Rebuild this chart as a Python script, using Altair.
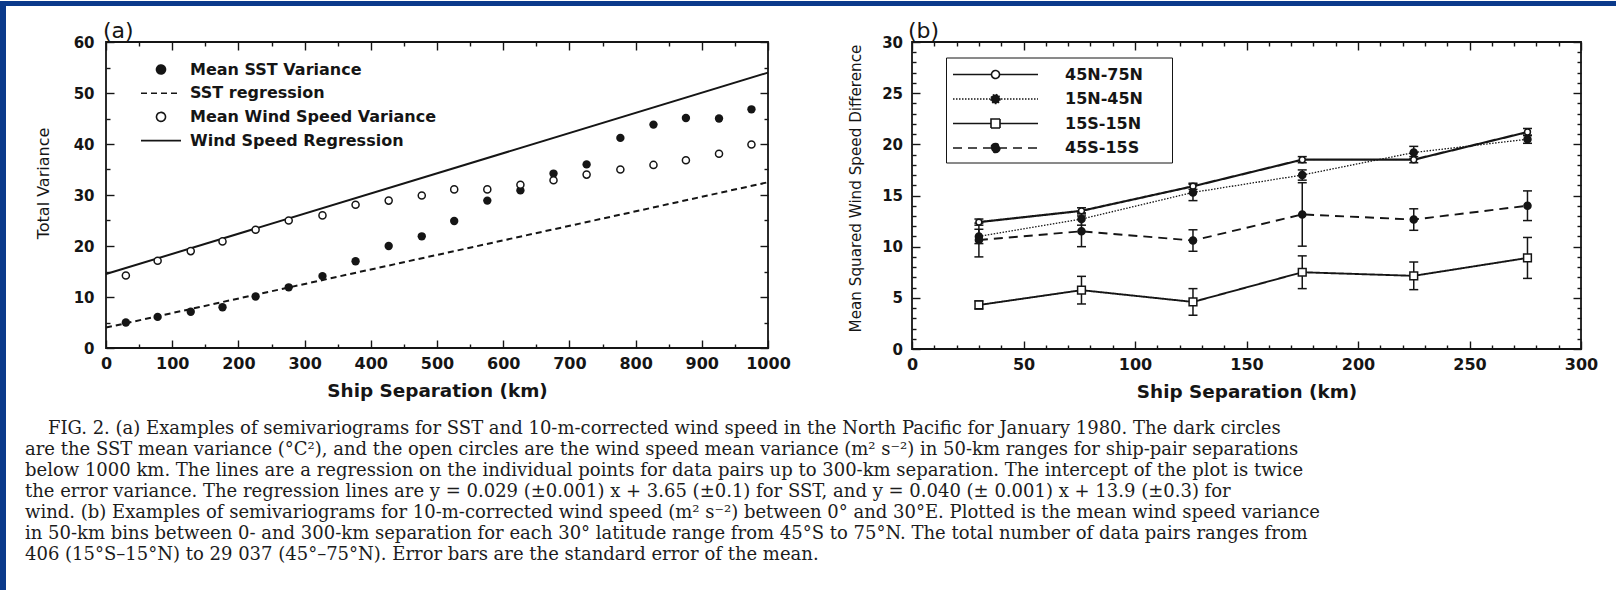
import altair as alt
import pandas as pd

INK = "#151515"
BLUE = "#0b3a8b"
SANS = "DejaVu Sans"
SERIF = "DejaVu Serif"
NB = "\u00a0"

# ---------------- panel (a) values ----------------
a_sep = [30, 78, 128, 176, 226, 276, 327, 377, 427, 477, 526, 576, 626, 676, 726, 777, 827, 876, 926, 975]
a_sst = [5.0, 6.1, 7.1, 8.0, 10.1, 11.9, 14.1, 17.0, 20.0, 21.9, 24.9, 28.9, 30.9, 34.2, 36.0, 41.2, 43.8, 45.1, 45.0, 46.8]
a_wind = [14.2, 17.1, 19.0, 20.9, 23.2, 25.0, 26.0, 28.1, 28.9, 29.9, 31.1, 31.1, 32.0, 32.9, 34.0, 35.0, 35.9, 36.8, 38.1, 39.9]
a_reg_sep = [0, 1000]
a_sst_reg = [4.0, 32.5]
a_wind_reg = [14.5, 54.0]
a_legend_items = ["Mean SST Variance", "SST regression", "Mean Wind Speed Variance", "Wind Speed Regression"]
a_x_major = [0, 100, 200, 300, 400, 500, 600, 700, 800, 900, 1000]
a_x_minor = [50, 150, 250, 350, 450, 550, 650, 750, 850, 950]
a_y_major = [0, 10, 20, 30, 40, 50, 60]
a_y_minor = [5, 15, 25, 35, 45, 55]

# ---------------- panel (b) values ----------------
b_sep = [30, 76, 126, 175, 225, 276]
b_series = ["45N-75N", "15N-45N", "15S-15N", "45S-15S"]
b_45n_75n = [12.4, 13.5, 15.9, 18.5, 18.5, 21.2]
b_45n_75n_se = [0.3, 0.3, 0.3, 0.3, 0.3, 0.35]
b_15n_45n = [11.0, 12.7, 15.3, 17.0, 19.2, 20.5]
b_15n_45n_se = [0.7, 0.6, 0.8, 0.5, 0.6, 0.4]
b_15s_15n = [4.3, 5.75, 4.6, 7.5, 7.15, 8.9]
b_15s_15n_se = [0.4, 1.35, 1.3, 1.6, 1.35, 2.0]
b_45s_15s = [10.65, 11.5, 10.6, 13.15, 12.65, 14.0]
b_45s_15s_se = [1.65, 1.5, 1.05, 3.1, 1.05, 1.45]
b_x_major = [0, 50, 100, 150, 200, 250, 300]
b_x_minor = [10, 20, 30, 40, 60, 70, 80, 90, 110, 120, 130, 140, 160, 170, 180, 190,
             210, 220, 230, 240, 260, 270, 280, 290]
b_y_major = [0, 5, 10, 15, 20, 25, 30]
b_y_minor = [1, 2, 3, 4, 6, 7, 8, 9, 11, 12, 13, 14, 16, 17, 18, 19, 21, 22, 23, 24, 26, 27, 28, 29]

caption_lines = [
    "\u200b" + NB * 4 + "FIG. 2. (a) Examples of semivariograms for SST and 10-m-corrected wind speed in the North Pacific for January 1980. The dark circles",
    "are the SST mean variance (°C²), and the open circles are the wind speed mean variance (m² s⁻²) in 50-km ranges for ship-pair separations",
    "below 1000 km. The lines are a regression on the individual points for data pairs up to 300-km separation. The intercept of the plot is twice",
    "the error variance. The regression lines are y = 0.029 (±0.001) x + 3.65 (±0.1) for SST, and y = 0.040 (± 0.001) x + 13.9 (±0.3) for",
    "wind. (b) Examples of semivariograms for 10-m-corrected wind speed (m² s⁻²) between 0° and 30°E. Plotted is the mean wind speed variance",
    "in 50-km bins between 0- and 300-km separation for each 30° latitude range from 45°S to 75°N. The total number of data pairs ranges from",
    "406 (15°S–15°N) to 29 037 (45°–75°N). Error bars are the standard error of the mean.",
]

# ---------------- tables ----------------
df_a = pd.DataFrame({"sep": a_sep, "sst": a_sst, "wind": a_wind})
df_a_reg = pd.DataFrame({"sep": a_reg_sep, "sst": a_sst_reg, "wind": a_wind_reg})
df_a_leg = pd.DataFrame({"item_a": a_legend_items})

b_vals = {"45N-75N": (b_45n_75n, b_45n_75n_se), "15N-45N": (b_15n_45n, b_15n_45n_se),
          "15S-15N": (b_15s_15n, b_15s_15n_se), "45S-15S": (b_45s_15s, b_45s_15s_se)}
rows = []
for s in b_series:
    v, e = b_vals[s]
    for xx, yy, ee in zip(b_sep, v, e):
        rows.append({"series": s, "sep": xx, "val": yy, "lo": yy - ee, "hi": yy + ee})
df_b = pd.DataFrame(rows)
df_b_leg = pd.DataFrame({"item_b": b_series})


def axis_layers(df, xf, yf, xsc, ysc, xmaj, xmin, ymaj, ymin, xtitle, ytitle,
                ylabpad, ytitlepad, xtitlepad, ytitlesize, ytitley):
    base = alt.Chart(df).mark_point(opacity=0)
    common = dict(grid=False, domain=False, tickColor=INK, tickWidth=1.4)
    lab = dict(labelFont=SANS, labelFontWeight="bold", labelColor=INK, format="d",
               labelFlush=False, labelOverlap=False)
    bottom = alt.Axis(orient="bottom", values=xmaj, tickSize=8, offset=-8, labelPadding=7,
                      labelFontSize=16, titlePadding=xtitlepad, titleFont=SANS, titleFontSize=18.4,
                      titleFontWeight="bold", titleColor=INK, **lab, **common)
    left = alt.Axis(orient="left", values=ymaj, tickSize=8, offset=-8, labelPadding=ylabpad,
                    labelFontSize=15, titlePadding=ytitlepad, titleFont=SANS, titleFontSize=ytitlesize,
                    titleFontWeight="normal", titleColor=INK, titleY=ytitley, **lab, **common)
    l1 = base.encode(x=alt.X(xf, type="quantitative", scale=xsc, title=xtitle, axis=bottom),
                     y=alt.Y(yf, type="quantitative", scale=ysc, title=ytitle, axis=left))
    l2 = base.encode(
        x=alt.X(xf, type="quantitative", scale=xsc, title=None,
                axis=alt.Axis(orient="top", values=xmaj, tickSize=8, offset=-8, labels=False, **common)),
        y=alt.Y(yf, type="quantitative", scale=ysc, title=None,
                axis=alt.Axis(orient="right", values=ymaj, tickSize=8, offset=-8, labels=False, **common)))
    l3 = base.encode(
        x=alt.X(xf, type="quantitative", scale=xsc, title=None,
                axis=alt.Axis(orient="bottom", values=xmin, tickSize=4, offset=-4, labels=False, **common)),
        y=alt.Y(yf, type="quantitative", scale=ysc, title=None,
                axis=alt.Axis(orient="left", values=ymin, tickSize=4, offset=-4, labels=False, **common)))
    l4 = base.encode(
        x=alt.X(xf, type="quantitative", scale=xsc, title=None,
                axis=alt.Axis(orient="top", values=xmin, tickSize=4, offset=-4, labels=False, **common)),
        y=alt.Y(yf, type="quantitative", scale=ysc, title=None,
                axis=alt.Axis(orient="right", values=ymin, tickSize=4, offset=-4, labels=False, **common)))
    return [l1, l2, l3, l4]


def circle_path(cx, r):
    return f"M{cx + r},0A{r},{r} 0 1,1 {cx - r},0A{r},{r} 0 1,1 {cx + r},0Z"


# ---------------- panel (a) ----------------
xa = alt.Scale(domain=[0, 1000], nice=False, zero=False)
ya = alt.Scale(domain=[0, 60], nice=False, zero=False)
ax_a = axis_layers(df_a, "sep", "sst", xa, ya, a_x_major, a_x_minor, a_y_major, a_y_minor,
                   "Ship Separation (km)", "Total Variance", 12, 22, 10, 16, 141)

a_sst_line = alt.Chart(df_a_reg).mark_line(color=INK, strokeWidth=2, strokeDash=[6, 4]).encode(
    x=alt.X("sep:Q", scale=xa, axis=None), y=alt.Y("sst:Q", scale=ya, axis=None))
a_wind_line = alt.Chart(df_a_reg).mark_line(color=INK, strokeWidth=2).encode(
    x=alt.X("sep:Q", scale=xa, axis=None), y=alt.Y("wind:Q", scale=ya, axis=None))
a_sst_pts = alt.Chart(df_a).mark_circle(color=INK, size=70, opacity=1).encode(
    x=alt.X("sep:Q", scale=xa, axis=None), y=alt.Y("sst:Q", scale=ya, axis=None))
a_wind_pts = alt.Chart(df_a).mark_point(shape="circle", filled=False, fill="white", fillOpacity=1,
                                        stroke=INK, strokeWidth=1.5, size=50, opacity=1).encode(
    x=alt.X("sep:Q", scale=xa, axis=None), y=alt.Y("wind:Q", scale=ya, axis=None))

leg_a = alt.Legend(title=None, orient="none", legendX=47, legendY=19.5, padding=0, rowPadding=7.7,
                   labelOffset=21, labelFont=SANS, labelFontSize=16, labelFontWeight="bold",
                   labelColor=INK, labelLimit=500, symbolSize=100, symbolStrokeWidth=1.6,
                   symbolStrokeColor=INK)
a_dom = a_legend_items
a_leg = alt.Chart(df_a_leg).transform_filter("false").mark_point(
    opacity=1, filled=True, strokeWidth=1.6).encode(
    shape=alt.Shape("item_a:N", legend=leg_a, scale=alt.Scale(
        domain=a_dom, range=[circle_path(0, 0.9), "M-4,0H4", circle_path(0, 0.9), "M-4,0H4"])),
    fill=alt.Fill("item_a:N", legend=leg_a, scale=alt.Scale(
        domain=a_dom, range=[INK, "white", "white", "white"])),
    stroke=alt.Stroke("item_a:N", legend=leg_a, scale=alt.Scale(
        domain=a_dom, range=[INK, INK, INK, INK])),
    strokeDash=alt.StrokeDash("item_a:N", legend=leg_a, scale=alt.Scale(
        domain=a_dom, range=[[1, 0], [6, 4], [1, 0], [1, 0]])),
)

panel_a = alt.layer(*ax_a, a_sst_line, a_wind_line, a_sst_pts, a_wind_pts, a_leg).resolve_axis(
    x="independent", y="independent").properties(
    width=662, height=306,
    title=alt.TitleParams("(a)", anchor="start", frame="group", font=SANS, fontSize=22,
                          fontWeight="normal", color=INK, offset=-8, dx=-3))

# ---------------- panel (b) ----------------
xb = alt.Scale(domain=[0, 300], nice=False, zero=False)
yb = alt.Scale(domain=[0, 30], nice=False, zero=False)
ax_b = axis_layers(df_b, "sep", "val", xb, yb, b_x_major, b_x_minor, b_y_major, b_y_minor,
                   "Ship Separation (km)", "Mean Squared Wind Speed Difference", 9.5, 18, 10, 15.2, 146)

b_style = {
    "45N-75N": dict(dash=[1, 0], width=2.2, shape="circle", fill="white", size=35),
    "15N-45N": dict(dash=[1.5, 1.5], width=1.3, shape="circle", fill=INK, size=50),
    "15S-15N": dict(dash=[1, 0], width=1.9, shape="square", fill="white", size=60),
    "45S-15S": dict(dash=[9, 6], width=1.9, shape="circle", fill=INK, size=50),
}
b_lines, b_err, b_pts = [], [], []
for s in b_series:
    st = b_style[s]
    src = alt.Chart(df_b).transform_filter(alt.datum.series == s)
    xenc = alt.X("sep:Q", scale=xb, axis=None)
    b_lines.append(src.mark_line(color=INK, strokeWidth=st["width"], strokeDash=st["dash"]).encode(
        x=xenc, y=alt.Y("val:Q", scale=yb, axis=None)))
    b_err.append(src.mark_rule(color=INK, strokeWidth=1.5).encode(
        x=xenc, y=alt.Y("lo:Q", scale=yb, axis=None), y2="hi:Q"))
    b_err.append(src.mark_tick(orient="horizontal", size=9, thickness=1.5, color=INK, opacity=1).encode(
        x=xenc, y=alt.Y("lo:Q", scale=yb, axis=None)))
    b_err.append(src.mark_tick(orient="horizontal", size=9, thickness=1.5, color=INK, opacity=1).encode(
        x=xenc, y=alt.Y("hi:Q", scale=yb, axis=None)))
    b_pts.append(src.mark_point(shape=st["shape"], filled=True, fill=st["fill"], fillOpacity=1,
                                stroke=INK, strokeWidth=1.5, size=st["size"], opacity=1).encode(
        x=xenc, y=alt.Y("val:Q", scale=yb, axis=None)))

leg_b = alt.Legend(title=None, orient="none", legendX=34, legendY=15.5, padding=6, rowPadding=5.5,
                   labelOffset=91, labelFont=SANS, labelFontSize=16, labelFontWeight="bold",
                   labelColor=INK, labelLimit=500, symbolSize=400, symbolStrokeWidth=1.6,
                   symbolStrokeColor=INK, strokeColor=INK, fillColor="white",
                   labelExpr="datum.label + '" + NB * 4 + "\u200b'")
b_paths = [
    "M-1,0H2.85M3.65,0H7.5" + circle_path(3.25, 0.4),
    "M-1,0H7.5" + circle_path(3.25, 0.45),
    "M-1,0H2.8M3.7,0H7.5M2.8,-0.45H3.7V0.45H2.8Z",
    "M-1,0H7.5" + circle_path(3.25, 0.45),
]
b_leg = alt.Chart(df_b_leg).transform_filter("false").mark_point(
    opacity=1, filled=True, strokeWidth=1.6).encode(
    shape=alt.Shape("item_b:N", legend=leg_b, scale=alt.Scale(domain=b_series, range=b_paths)),
    fill=alt.Fill("item_b:N", legend=leg_b, scale=alt.Scale(domain=b_series, range=["white", INK, "white", INK])),
    stroke=alt.Stroke("item_b:N", legend=leg_b, scale=alt.Scale(domain=b_series, range=[INK, INK, INK, INK])),
    strokeDash=alt.StrokeDash("item_b:N", legend=leg_b, scale=alt.Scale(
        domain=b_series, range=[[1, 0], [1.5, 1.5], [1, 0], [9, 6]])),
)

panel_b = alt.layer(*ax_b, *b_lines, *b_err, *b_pts, b_leg).resolve_axis(
    x="independent", y="independent").properties(
    width=669, height=307,
    title=alt.TitleParams("(b)", anchor="start", frame="group", font=SANS, fontSize=22,
                          fontWeight="normal", color=INK, offset=-8, dx=-4))

# ---------------- frame / layout ----------------
one = pd.DataFrame({"v": [0]})
left_strip = alt.Chart(one).mark_point(opacity=0).encode(color=alt.value("white")).properties(
    width=6, height=590, view=alt.ViewBackground(fill=BLUE, stroke=BLUE, strokeWidth=0))
top_strip = alt.Chart(one).mark_point(opacity=0).encode(color=alt.value("white")).properties(
    width=1610, height=5, view=alt.ViewBackground(fill=BLUE, stroke=BLUE, strokeWidth=0))
spacer = alt.Chart(one).mark_point(opacity=0).encode(color=alt.value("white")).properties(
    width=28, height=10, view=alt.ViewBackground(stroke="transparent", strokeWidth=0))

indep = dict(shape="independent", fill="independent", stroke="independent", strokeDash="independent")
panels = alt.hconcat(panel_a, panel_b, spacing=55).resolve_scale(**indep).resolve_legend(**indep)
body = alt.hconcat(spacer, panels, spacing=0).properties(
    title=alt.TitleParams(caption_lines, orient="bottom", anchor="start", font=SERIF, fontSize=18,
                          fontWeight="normal", color="#1c1c1c", lineHeight=21, offset=19, dx=19))
right_col = alt.vconcat(top_strip, body, spacing=12)

chart = alt.hconcat(left_strip, right_col, spacing=0).properties(
    padding=0, background="white").configure_view(stroke=INK, strokeWidth=1.8)

chart.save("out.html", embed_options={"renderer": "svg", "actions": False})
